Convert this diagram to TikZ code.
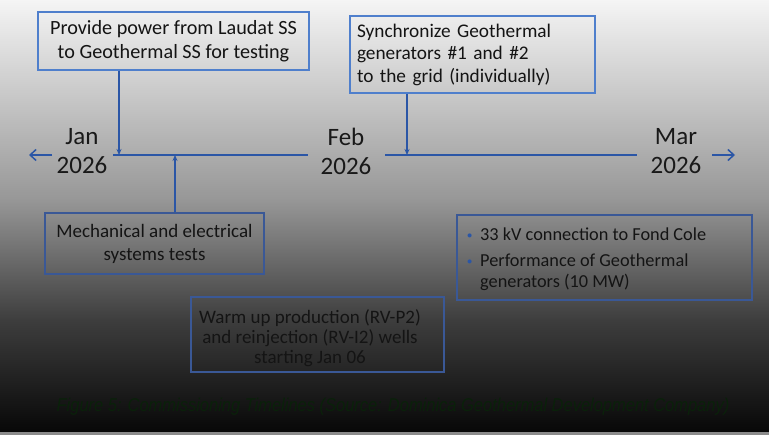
\documentclass[tikz,border=0pt]{standalone}
\usepackage{fontspec}
\setmainfont{Carlito}
\newfontfamily\capfont[FakeStretch=0.89]{Liberation Sans}
\usetikzlibrary{arrows.meta}
\definecolor{tl}{HTML}{2B56A6}
\definecolor{bxA}{HTML}{4F7FCC}
\definecolor{bxB}{HTML}{3A5896}
\definecolor{capg}{HTML}{0A210A}
\tikzset{
  evbox/.style={draw=#1, line width=1.2pt, inner sep=0pt, text=black!92, align=center, font=\fontsize{19}{23}\selectfont},
  evtext/.style={inner sep=0pt, text=black!92, font=\fontsize{19}{20}\selectfont},
  datelbl/.style={align=center, text=black!90, font=\fontsize{25}{29}\selectfont, inner sep=0pt},
  tline/.style={draw=tl, line width=2.6pt},
  conn/.style={draw=tl, line width=1.2pt, -{Stealth[length=6pt,width=5pt]}},
  sidearr/.style={draw=tl, line width=1.5pt, -{Straight Barb[length=6pt,width=11pt]}}
}
\begin{document}
\begin{tikzpicture}[x=1pt,y=-1pt]
\useasboundingbox (0,0) rectangle (769,435);
% background
\shade[top color=black!4, bottom color=black!41] (0,0) rectangle (769,200.5);
\shade[top color=black!41, bottom color=black!76] (0,200) rectangle (769,320.5);
\shade[top color=black!76, bottom color=black!97] (0,320) rectangle (769,432);
\fill[black!45] (0,432) rectangle (769,435);
% dates
\node[datelbl] (jan) at (82,151) {Jan\\2026};
\node[datelbl] (feb) at (346,151) {Feb\\2026};
\node[datelbl] (mar) at (676,151) {Mar\\2026};
% timeline
\coordinate (l1) at (113,155); \coordinate (r1) at (308,155);
\coordinate (l2) at (385,155); \coordinate (r2) at (637,155);
\draw[tline] (l1) -- (r1);
\draw[tline] (l2) -- (r2);
\coordinate (la) at (52,155); \coordinate (lb) at (29,155);
\coordinate (ra) at (712,155); \coordinate (rb) at (735,155);
\draw[sidearr] (la) -- (lb);
\draw[sidearr] (ra) -- (rb);
% boxes
\node[evbox=bxA, minimum width=271pt, minimum height=58pt, font=\fontsize{20.2}{24}\selectfont] (b1) at (173.5,41) {Provide power from Laudat SS\\to Geothermal SS for testing};
\node[evbox=bxA, minimum width=245pt, minimum height=77pt, align=left, text width=231pt, font=\fontsize{19.3}{22.5}\selectfont] (b2) at (472.5,54.5) {Synchronize Geothermal\\generators \#1 and \#2\\to the grid (individually)};
\node[evbox=bxB, minimum width=219pt, minimum height=61pt] (b3) at (154.5,243.5) {Mechanical and electrical\\systems tests};
\node[evbox=bxB, minimum width=253pt, minimum height=75pt] (b4) at (317.5,334.5) {};
\node[evtext, align=center] (b4t) at (310,338) {Warm up production (RV-P2)\\and reinjection (RV-I2) wells\\starting Jan 06};
\node[evbox=bxB, minimum width=295pt, minimum height=85pt] (b5) at (604.5,257.5) {};
\node[evtext, align=left, anchor=north west, font=\fontsize{18.3}{21}\selectfont] (b5t) at (466,228) {%
  \makebox[14pt][l]{\hspace*{1pt}\textcolor{tl}{\raisebox{2pt}{\scalebox{0.6}{$\bullet$}}}}33 kV connection to Fond Cole\\[5pt]
  \makebox[14pt][l]{\hspace*{1pt}\textcolor{tl}{\raisebox{2pt}{\scalebox{0.6}{$\bullet$}}}}Performance of Geothermal\\
  \hspace*{14pt}generators (10 MW)};
% connectors
\coordinate (t1) at (119,155);
\coordinate (t2) at (407,155);
\coordinate (t3) at (175,155);
\draw[conn] (b1.south -| t1) -- (t1);
\draw[conn] (b2.south -| t2) -- (t2);
\draw[conn] (b3.north -| t3) -- (t3);
% caption
\node[text=capg, font=\capfont\itshape\fontsize{18.5}{20}\selectfont, inner sep=0pt] (cap) at (393,407) {Figure 5: Commissioning Timelines (Source: Dominica Geothermal Development Company)};
\end{tikzpicture}
\end{document}
